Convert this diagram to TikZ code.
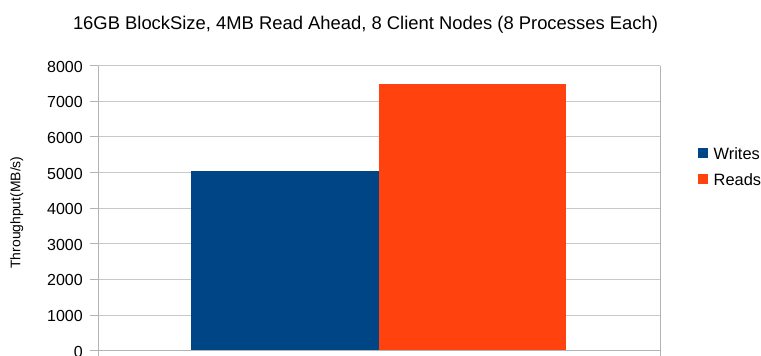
\documentclass[tikz,border=0pt]{standalone}
\usepackage{fontspec}
\setmainfont{Liberation Sans}
\usetikzlibrary{positioning}
\definecolor{writes}{HTML}{004586}
\definecolor{reads}{HTML}{FF420E}
\definecolor{gridgray}{HTML}{C8C8C8}
\definecolor{axisgray}{HTML}{B3B3B3}
\begin{document}
\begin{tikzpicture}[x=1pt,y=-1pt,
	gridline/.style={gridgray,line width=1pt},
	axisline/.style={axisgray,line width=1pt},
	ticklabel/.style={anchor=east,inner sep=0pt,font=\fontsize{16}{16}\selectfont},
	legendbox/.style={minimum size=10pt,inner sep=0pt},
	legendtext/.style={right=5pt,inner sep=0pt,font=\fontsize{16.4}{16}\selectfont}]
	\useasboundingbox[fill=white] (0,0) rectangle (761,356);
	% title
	\node[anchor=base,inner sep=0pt,font=\fontsize{18.4}{20}\selectfont] (title) at (365.5,30)
		{16GB BlockSize, 4MB Read Ahead, 8 Client Nodes (8 Processes Each)};
	% grid and value axis, 35.625pt per 1000 MB/s
	\foreach \k in {0,...,8}{
		\draw[gridline] (98,350.7-\k*35.625) -- (660,350.7-\k*35.625);
		\draw[axisline] (90,350.7-\k*35.625) -- (98,350.7-\k*35.625);
		\pgfmathtruncatemacro{\val}{\k*1000}
		\node[ticklabel] (t\k) at (83,351.7-\k*35.625) {\val};
	}
	% bars
	\fill[writes] (191,350.7) rectangle (379,350.7-5.05*35.625);
	\fill[reads] (379,350.7) rectangle (566,350.7-7.5*35.625);
	% axes
	\draw[axisline] (98,65.7) -- (98,356);
	\draw[axisline] (660,65.7) -- (660,356);
	\draw[axisline] (98,350.7) -- (660,350.7);
	\node[rotate=90,inner sep=0pt,font=\fontsize{13.9}{14}\selectfont] (ylabel) at (16.7,212.5) {Throughput(MB/s)};
	% legend
	\node[legendbox,fill=writes] (lw) at (703.3,153.3) {};
	\node[legendtext] (lwt) at (lw.east) {Writes};
	\node[legendbox,fill=reads] (lr) at (703.3,179.2) {};
	\node[legendtext] (lrt) at (lr.east) {Reads};
\end{tikzpicture}
\end{document}
